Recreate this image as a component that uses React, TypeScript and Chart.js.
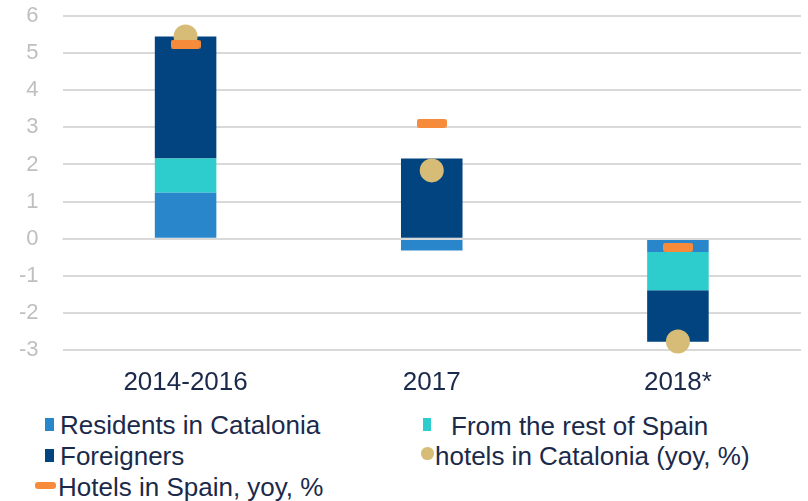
import React, { useEffect, useRef } from "react";
import { Chart, registerables } from "chart.js";

Chart.register(...registerables);

const categories = ["2014-2016", "2017", "2018*"];
const residents = [1.24, -0.32, -0.36];
const restOfSpain = [0.92, 0, -1.03];
const foreigners = [3.29, 2.16, -1.39];
const hotelsCatalonia = [5.45, 1.84, -2.77];
const hotelsSpain = [5.24, 3.11, -0.23];
const yMin = -3;
const yMax = 6;

const C_RES = "#2A86CB";
const C_REST = "#2ECDCD";
const C_FOR = "#02447F";
const C_CAT = "#D6BC76";
const C_SPA = "#F68B3C";
const TEXT = "#1B2A4A";

function makeDash(): HTMLCanvasElement {
  const c = document.createElement("canvas");
  c.width = 30;
  c.height = 9;
  const ctx = c.getContext("2d")!;
  ctx.fillStyle = C_SPA;
  ctx.beginPath();
  (ctx as any).roundRect(0, 0, 30, 9, 2.5);
  ctx.fill();
  return c;
}

const zeroLinePlugin = {
  id: "zeroLine",
  afterDatasetsDraw(chart: any) {
    const y = chart.scales.y.getPixelForValue(0);
    const { left, right } = chart.chartArea;
    const ctx = chart.ctx;
    ctx.save();
    ctx.strokeStyle = "#D9D9D9";
    ctx.lineWidth = 2;
    ctx.beginPath();
    ctx.moveTo(left, Math.round(y));
    ctx.lineTo(right, Math.round(y));
    ctx.stroke();
    ctx.restore();
  },
};

export default function App() {
  const ref = useRef<HTMLCanvasElement>(null);
  useEffect(() => {
    if (!ref.current) return;
    const dash = makeDash();
    const chart = new Chart(ref.current, {
      type: "bar",
      data: {
        labels: categories,
        datasets: [
          { label: "Residents in Catalonia", data: residents, backgroundColor: C_RES, stack: "s", order: 2, barPercentage: 0.25, categoryPercentage: 1 },
          { label: "From the rest of Spain", data: restOfSpain, backgroundColor: C_REST, stack: "s", order: 2, barPercentage: 0.25, categoryPercentage: 1 },
          { label: "Foreigners", data: foreigners, backgroundColor: C_FOR, stack: "s", order: 2, barPercentage: 0.25, categoryPercentage: 1 },
          { type: "line", label: "hotels in Catalonia (yoy, %)", data: hotelsCatalonia, stack: "cat", showLine: false, pointRadius: 12, pointHoverRadius: 12, pointBackgroundColor: C_CAT, pointBorderWidth: 0, borderColor: C_CAT, order: 1, clip: false } as any,
          { type: "line", label: "Hotels in Spain, yoy, %", data: hotelsSpain, stack: "spa", showLine: false, pointStyle: dash, pointRadius: 15, pointHoverRadius: 15, pointBackgroundColor: C_SPA, pointBorderWidth: 0, borderColor: C_SPA, order: 0, clip: false } as any,
        ],
      },
      options: {
        responsive: false,
        animation: false,
        layout: { padding: { top: 16, left: 0, right: 2, bottom: 0 } },
        plugins: { legend: { display: false }, tooltip: { enabled: false } },
        scales: {
          x: {
            stacked: true,
            grid: { display: false },
            border: { display: false },
            ticks: { color: TEXT, font: { family: "Liberation Sans", size: 26 }, padding: 9, maxRotation: 0 },
            afterFit: (s: any) => { s.height = 50; },
          },
          y: {
            stacked: true,
            min: yMin,
            max: yMax,
            grid: { color: "#D9D9D9", lineWidth: 2, drawTicks: true, tickLength: 24, tickColor: "rgba(0,0,0,0)" },
            border: { display: false },
            ticks: { stepSize: 1, color: "#BFBFBF", font: { family: "Liberation Sans", size: 22 }, padding: 0 },
            afterFit: (s: any) => { s.width = 62.5; },
          },
        },
      },
      plugins: [zeroLinePlugin],
    });
    return () => chart.destroy();
  }, []);

  const txt: React.CSSProperties = { position: "absolute", fontFamily: "Liberation Sans", fontSize: 26, lineHeight: "26px", color: TEXT, whiteSpace: "nowrap" };
  return (
    <div style={{ position: "absolute", left: 0, top: 0, width: 808, height: 501, overflow: "hidden", background: "#fff" }}>
      <canvas ref={ref} width={816} height={400} style={{ display: "block" }} />
      <div style={{ position: "absolute", left: 45, top: 418, width: 8.5, height: 13, background: C_RES }} />
      <span style={{ ...txt, left: 60, top: 412 }}>Residents in Catalonia</span>
      <div style={{ position: "absolute", left: 422.5, top: 418, width: 8.5, height: 13, background: C_REST }} />
      <span style={{ ...txt, left: 451, top: 413 }}>From the rest of Spain</span>
      <div style={{ position: "absolute", left: 45, top: 449, width: 8.5, height: 13, background: C_FOR }} />
      <span style={{ ...txt, left: 60, top: 443 }}>Foreigners</span>
      <div style={{ position: "absolute", left: 421, top: 447, width: 12.7, height: 12.7, borderRadius: "50%", background: C_CAT }} />
      <span style={{ ...txt, left: 435, top: 443 }}>hotels in Catalonia (yoy, %)</span>
      <div style={{ position: "absolute", left: 35, top: 482, width: 21, height: 6.5, borderRadius: 3, background: C_SPA }} />
      <span style={{ ...txt, left: 58, top: 474 }}>Hotels in Spain, yoy, %</span>
    </div>
  );
}
